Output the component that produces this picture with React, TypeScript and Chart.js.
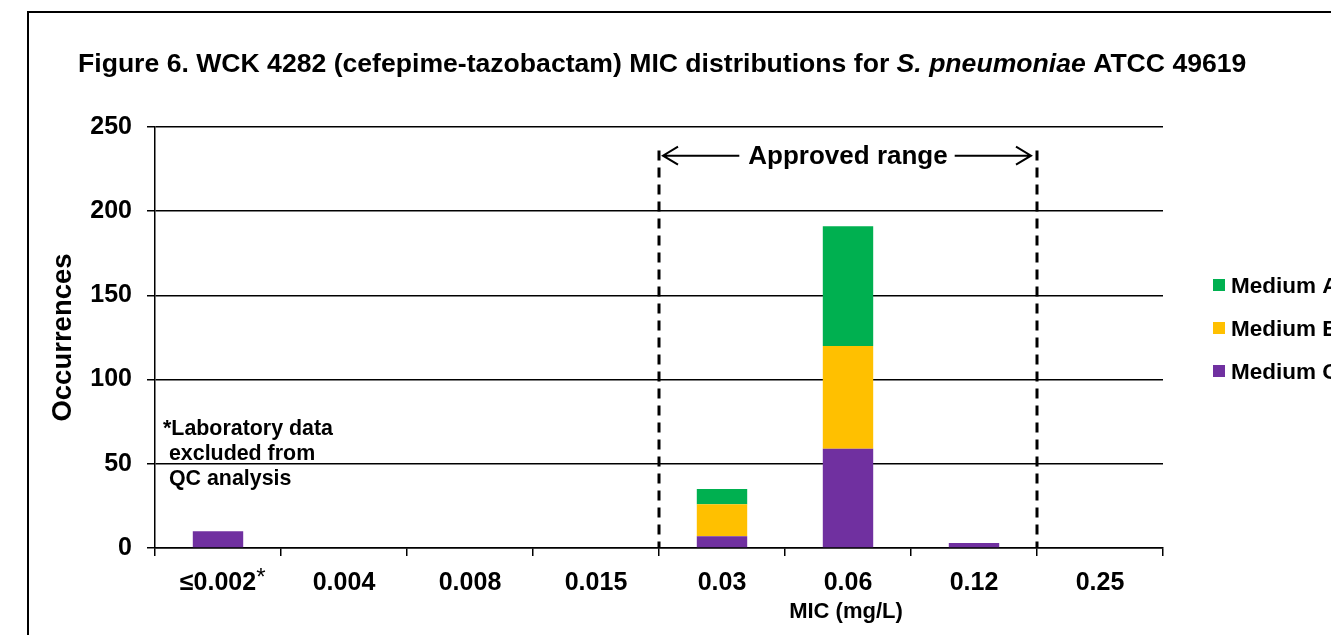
import React, { useEffect, useRef } from "react";
import { Chart, registerables } from "chart.js";

Chart.register(...registerables);

// ---- data ----
const categories = ["≤0.002", "0.004", "0.008", "0.015", "0.03", "0.06", "0.12", "0.25"];
const mediumA = [0, 0, 0, 0, 9, 71, 0, 0];
const mediumB = [0, 0, 0, 0, 19, 61, 0, 0];
const mediumC = [10, 0, 0, 0, 7, 59, 3, 0];
const seriesNames = ["Medium A", "Medium B", "Medium C"];
const seriesColors = ["#00B050", "#FFC000", "#7030A0"];
const yTicks = [0, 50, 100, 150, 200, 250];
const titleParts = [
  { text: "Figure 6. WCK 4282 (cefepime-tazobactam) MIC distributions for ", italic: false },
  { text: "S. pneumoniae", italic: true },
  { text: " ATCC 49619", italic: false },
];
const approvedLabel = "Approved range";
const approvedFromIndex = 4;
const approvedToIndex = 6;
const approvedLineTop = 236;
const approvedArrowLevel = 233;
const noteLines = ["*Laboratory data", " excluded from", " QC analysis"];
const footnoteMark = "*";
const xTitle = "MIC (mg/L)";
const xTitleCenterIndex = 5;
const yTitle = "Occurrences";

const FONT = "'Liberation Sans', Arial, Helvetica, sans-serif";

const decorPlugin = {
  id: "decor",
  beforeDraw(chart: any) {
    const ctx = chart.ctx;
    ctx.save();
    ctx.fillStyle = "#ffffff";
    ctx.fillRect(0, 0, chart.width, chart.height);
    ctx.fillStyle = "#000000";
    ctx.fillRect(27, 11, chart.width, 2);
    ctx.fillRect(27, 11, 2, chart.height);
    ctx.restore();
  },
  afterDraw(chart: any) {
    const ctx = chart.ctx;
    const xs = chart.scales.x;
    const ys = chart.scales.y;
    const area = chart.chartArea;
    ctx.save();
    ctx.fillStyle = "#000";
    ctx.strokeStyle = "#000";

    // Title
    ctx.textBaseline = "alphabetic";
    ctx.textAlign = "left";
    let tx = 78;
    const ty = 72;
    for (const p of titleParts) {
      ctx.font = `${p.italic ? "italic " : ""}bold 26.6px ${FONT}`;
      ctx.fillText(p.text, tx, ty);
      tx += ctx.measureText(p.text).width;
    }

    // Approved range dashed lines
    const leftX = (xs.getPixelForValue(approvedFromIndex - 1) + xs.getPixelForValue(approvedFromIndex)) / 2;
    const rightX = (xs.getPixelForValue(approvedToIndex) + xs.getPixelForValue(approvedToIndex + 1)) / 2;
    const topY = ys.getPixelForValue(approvedLineTop);
    ctx.lineWidth = 3;
    ctx.setLineDash([10, 7]);
    for (const lx of [leftX, rightX]) {
      ctx.beginPath();
      ctx.moveTo(lx, topY);
      ctx.lineTo(lx, area.bottom);
      ctx.stroke();
    }
    ctx.setLineDash([]);

    // Label and arrows
    const cx = (leftX + rightX) / 2;
    const ay = ys.getPixelForValue(approvedArrowLevel);
    ctx.font = `bold 26px ${FONT}`;
    ctx.textAlign = "center";
    ctx.textBaseline = "middle";
    ctx.fillText(approvedLabel, cx, ay + 1);
    const w = ctx.measureText(approvedLabel).width;
    ctx.lineWidth = 2;
    const l1 = leftX + 4;
    const l2 = cx - w / 2 - 9;
    const r1 = cx + w / 2 + 7;
    const r2 = rightX - 6;
    ctx.beginPath();
    ctx.moveTo(l2, ay);
    ctx.lineTo(l1, ay);
    ctx.moveTo(l1 + 15, ay - 9);
    ctx.lineTo(l1, ay);
    ctx.lineTo(l1 + 15, ay + 9);
    ctx.moveTo(r1, ay);
    ctx.lineTo(r2, ay);
    ctx.moveTo(r2 - 15, ay - 9);
    ctx.lineTo(r2, ay);
    ctx.lineTo(r2 - 15, ay + 9);
    ctx.stroke();

    // X axis title (centred under the 0.06 column as in the source)
    ctx.font = `bold 22px ${FONT}`;
    ctx.textAlign = "center";
    ctx.textBaseline = "alphabetic";
    ctx.fillText(xTitle, xs.getPixelForValue(xTitleCenterIndex) - 2, 618);

    // Note text
    ctx.font = `bold 21.4px ${FONT}`;
    ctx.textAlign = "left";
    noteLines.forEach((line, i) => {
      ctx.fillText(line, area.left + 8, 435 + i * 25);
    });

    // Footnote mark after first tick label
    ctx.font = `bold 25px ${FONT}`;
    const lw = ctx.measureText(categories[0]).width;
    ctx.font = `24px ${FONT}`;
    ctx.fillText(footnoteMark, xs.getPixelForValue(0) + lw / 2 + 0, 585);

    // Legend
    ctx.font = `bold 22.5px ${FONT}`;
    const legendX = area.right + 50;
    seriesNames.forEach((name, i) => {
      const sy = 279 + i * 43;
      ctx.fillStyle = seriesColors[i];
      ctx.fillRect(legendX, sy, 12, 12);
      ctx.fillStyle = "#000";
      ctx.fillText(name, legendX + 18, sy + 14);
    });

    ctx.restore();
  },
};

export default function App() {
  const ref = useRef<HTMLCanvasElement | null>(null);

  useEffect(() => {
    if (!ref.current) return;
    const tickFont = { family: FONT, size: 25, weight: "bold" as const };
    const chart = new Chart(ref.current, {
      type: "bar",
      data: {
        labels: categories,
        datasets: [
          { label: seriesNames[2], data: mediumC, backgroundColor: seriesColors[2], borderWidth: 0 },
          { label: seriesNames[1], data: mediumB, backgroundColor: seriesColors[1], borderWidth: 0 },
          { label: seriesNames[0], data: mediumA, backgroundColor: seriesColors[0], borderWidth: 0 },
        ],
      },
      options: {
        animation: false,
        responsive: false,
        maintainAspectRatio: false,
        layout: { padding: { top: 127, right: 168, bottom: 0, left: 0 } },
        datasets: { bar: { barPercentage: 0.4, categoryPercentage: 1 } },
        plugins: {
          legend: { display: false },
          tooltip: { enabled: false },
          title: { display: false },
        },
        scales: {
          x: {
            stacked: true,
            grid: {
              display: true,
              drawOnChartArea: false,
              drawTicks: true,
              tickLength: 8,
              color: "#000",
              lineWidth: 1.5,
              offset: true,
            },
            border: { display: true, color: "#000", width: 1.5 },
            ticks: { color: "#000", font: tickFont, padding: 12, maxRotation: 0, autoSkip: false },
            title: { display: false, text: xTitle },
            afterFit(scale: any) {
              scale.height = 87;
            },
          },
          y: {
            stacked: true,
            min: 0,
            max: 250,
            afterBuildTicks(scale: any) {
              scale.ticks = yTicks.map((v) => ({ value: v }));
            },
            grid: { color: "#000", lineWidth: 1.5, tickLength: 8 },
            border: { display: true, color: "#000", width: 1.5 },
            ticks: { color: "#000", font: tickFont, padding: 15 },
            title: {
              display: true,
              text: yTitle,
              color: "#000",
              font: { family: FONT, size: 27.5, weight: "bold" },
              padding: { top: 47, bottom: 0 },
            },
            afterFit(scale: any) {
              scale.width = 155;
            },
          },
        },
      },
      plugins: [decorPlugin],
    });
    return () => chart.destroy();
  }, []);

  return (
    <div style={{ position: "fixed", left: 0, top: 0, width: 1331, height: 635, overflow: "hidden", background: "#fff" }}>
      <canvas ref={ref} width={1331} height={635} style={{ display: "block", width: 1331, height: 635 }} />
    </div>
  );
}
